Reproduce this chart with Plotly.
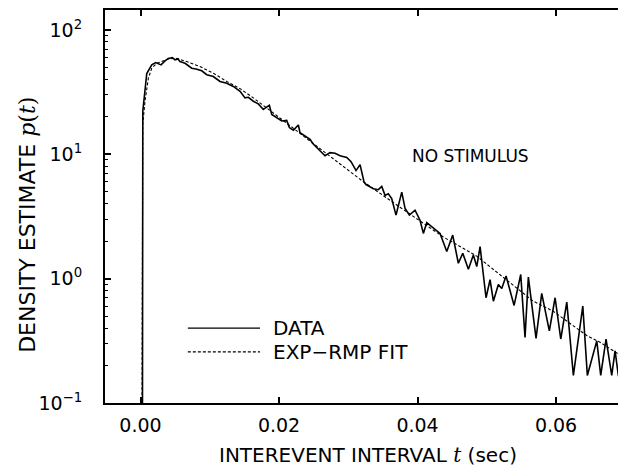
import plotly.graph_objects as go

# ---- data ----
t_data = [0.00026, 0.00033, 0.00090, 0.00162, 0.00219, 0.00267, 0.00296, 0.00354, 0.00401, 0.00459,
          0.00498, 0.00542, 0.00570, 0.00643, 0.00739, 0.00801, 0.00884, 0.00956, 0.01051, 0.01148,
          0.01245, 0.01340, 0.01437, 0.01509, 0.01557, 0.01629, 0.01701, 0.01773, 0.01860, 0.01895,
          0.01967, 0.02039, 0.02111, 0.02149, 0.02206, 0.02279, 0.02303, 0.02375, 0.02448, 0.02487,
          0.02592, 0.02664, 0.02736, 0.02809, 0.02881, 0.02978, 0.03040, 0.03112, 0.03170, 0.03228,
          0.03256, 0.03362, 0.03434, 0.03483, 0.03531, 0.03578, 0.03627, 0.03689, 0.03772, 0.03820,
          0.03882, 0.03964, 0.04036, 0.04084, 0.04133, 0.04228, 0.04325, 0.04422, 0.04508, 0.04589,
          0.04653, 0.04734, 0.04806, 0.04855, 0.04903, 0.04989, 0.05047, 0.05095, 0.05167, 0.05216,
          0.05278, 0.05394, 0.05490, 0.05552, 0.05600, 0.05711, 0.05793, 0.05903, 0.05986, 0.06068,
          0.06155, 0.06250, 0.06386, 0.06452, 0.06588, 0.06645, 0.06722, 0.06804, 0.06852, 0.06900,
          0.06953, 0.07011]
p_data = [0.01, 22.2, 44.6, 52.3, 54.6, 52.9, 52.3, 56.3, 59.0, 59.8,
          57.4, 58.4, 55.6, 53.9, 49.2, 48.4, 46.9, 43.6, 42.2, 38.5,
          37.3, 35.1, 32.1, 28.4, 28.7, 26.7, 25.4, 22.9, 24.8, 20.9,
          19.6, 18.5, 18.7, 16.4, 15.6, 17.2, 14.9, 14.0, 13.2, 12.2,
          10.7, 9.73, 10.3, 10.2, 9.73, 9.43, 8.71, 7.39, 8.25, 5.96,
          5.71, 5.28, 5.19, 5.51, 4.67, 4.82, 4.40, 3.24, 4.96, 3.66,
          3.24, 3.55, 2.95, 2.31, 2.82, 2.54, 2.31, 1.65, 2.24, 1.33,
          1.60, 1.19, 1.55, 1.25, 1.81, 0.702, 0.98, 0.659, 0.896, 0.832,
          1.05, 0.609, 1.08, 0.337, 1.03, 0.331, 0.76, 0.380, 0.702, 0.327,
          0.647, 0.1665, 0.602, 0.1665, 0.316, 0.1665, 0.327, 0.1665, 0.263, 0.1665,
          0.165, 0.272]

t_fit = [0.00022, 0.00032, 0.00065, 0.00113, 0.00162, 0.00234, 0.00401, 0.00523, 0.00667, 0.00859,
         0.01051, 0.01245, 0.01437, 0.01629, 0.01870, 0.02159, 0.02448, 0.02852, 0.03213, 0.03747,
         0.04368, 0.04859, 0.05190, 0.05668, 0.05957, 0.06159, 0.06448, 0.06635, 0.07011]
p_fit = [0.08, 17.5, 26.7, 40.9, 49.2, 53.9, 58.4, 59.0, 55.6, 50.7,
         44.9, 38.5, 33.7, 28.4, 22.5, 17.0, 12.9, 8.71, 6.04, 3.75,
         2.17, 1.51, 1.08, 0.66, 0.548, 0.457, 0.347, 0.308, 0.226]

x_tickvals = [0.0, 0.02, 0.04, 0.06]
x_ticktext = ["0.00", "0.02", "0.04", "0.06"]
y_tickvals = [0.1, 1, 10, 100]
y_ticktext = ["10<sup>\u22121</sup>", "10<sup>0</sup>", "10<sup>1</sup>", "10<sup>2</sup>"]
y_minor = [m * d for d in (0.1, 1, 10) for m in range(2, 10)]

FONT = "DejaVu Sans"

fig = go.Figure()
fig.add_trace(go.Scatter(x=t_data, y=p_data, mode="lines", name="DATA",
                         line=dict(color="black", width=1.6), showlegend=False))
fig.add_trace(go.Scatter(x=t_fit, y=p_fit, mode="lines", name="EXP\u2212RMP FIT",
                         line=dict(color="black", width=1.1, dash="3px,2px"), showlegend=False))

# legend drawn by hand (long line samples like the reference)
fig.add_shape(type="line", xref="paper", yref="paper", x0=0.159, x1=0.2975, y0=0.1906, y1=0.1906,
              line=dict(color="black", width=1.3))
fig.add_shape(type="line", xref="paper", yref="paper", x0=0.159, x1=0.2975, y0=0.130, y1=0.130,
              line=dict(color="black", width=1.1, dash="3px,2px"))
fig.add_annotation(xref="paper", yref="paper", x=0.318, y=0.1906, text="DATA", showarrow=False,
                   xanchor="left", yanchor="middle", font=dict(family=FONT, size=20, color="black"))
fig.add_annotation(xref="paper", yref="paper", x=0.318, y=0.130, text="EXP\u2212RMP FIT", showarrow=False,
                   xanchor="left", yanchor="middle", font=dict(family=FONT, size=20, color="black"))

fig.add_annotation(xref="x", yref="y", x=0.0477, y=0.988, text="NO STIMULUS", showarrow=False,
                   xanchor="center", yanchor="middle", font=dict(family=FONT, size=17, color="black"))

# axis titles
fig.add_annotation(xref="paper", yref="paper", x=0.505, y=-0.1645,
                   text="INTEREVENT INTERVAL <span style='font-family:DejaVu Serif'><i>t</i></span> (sec)",
                   showarrow=False, xanchor="center", yanchor="bottom", borderpad=0,
                   font=dict(family=FONT, size=20, color="black"))
fig.add_annotation(xref="paper", yref="paper", x=-0.148, y=0.453, textangle=-90,
                   text="DENSITY ESTIMATE <span style='font-family:DejaVu Serif'><i>p</i>(<i>t</i>)</span>",
                   showarrow=False, xanchor="center", yanchor="middle",
                   font=dict(family=FONT, size=22, color="black"))

fig.update_layout(
    width=618, height=462,
    margin=dict(l=97, r=0, t=0, b=67),
    paper_bgcolor="white", plot_bgcolor="white",
    font=dict(family=FONT, size=19, color="black"),
    xaxis=dict(range=[-0.00513, 0.0701], tickvals=x_tickvals, ticktext=x_ticktext,
               ticks="inside", ticklen=6, tickwidth=1.5, tickcolor="black",
               showline=True, linewidth=2, linecolor="black", mirror="ticks",
               showgrid=False, zeroline=False, ticklabelstandoff=4,
               tickfont=dict(family=FONT, size=19)),
    yaxis=dict(type="log", range=[-1, 2.16], tickvals=y_tickvals, ticktext=y_ticktext,
               ticks="inside", ticklen=6, tickwidth=1.5, tickcolor="black",
               minor=dict(tickvals=y_minor, ticks="inside", ticklen=3, tickwidth=1, tickcolor="black"),
               showline=True, linewidth=2, linecolor="black", mirror=False,
               showgrid=False, zeroline=False, ticklabelstandoff=17,
               tickfont=dict(family=FONT, size=19)),
)

fig.write_html("out.html")
